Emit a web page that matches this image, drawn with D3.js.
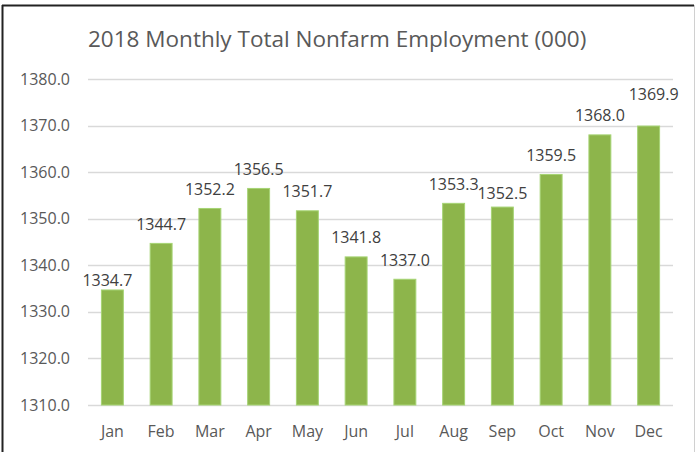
<!DOCTYPE html>
<html>
<head>
<meta charset="utf-8">
<script src="https://cdn.jsdelivr.net/npm/d3@7"></script>
<style>
  body { margin: 0; background: #fff; }
  text { font-family: "Open Sans", "Noto Sans", sans-serif; fill: #595959; }
</style>
</head>
<body>
<svg id="chart" width="696" height="452"></svg>
<script>
const months = ["Jan", "Feb", "Mar", "Apr", "May", "Jun", "Jul", "Aug", "Sep", "Oct", "Nov", "Dec"];
const employment = [1334.7, 1344.7, 1352.2, 1356.5, 1351.7, 1341.8, 1337.0, 1353.3, 1352.5, 1359.5, 1368.0, 1369.9];
const yTicks = [1310, 1320, 1330, 1340, 1350, 1360, 1370, 1380];

// label placement tweaks (excel moves a few of them around)
const labelNudgeX = [-5, 0, 0, 0, 0, 0, 0, 0, 0, 0, 0, 5];
const labelNudgeY = [10, 0, 0, 0, 0, 0, 0, 0, 5.5, 0, 0, -12.5];

const width = 696;
const height = 452;
const margin = {top: 79, right: 23, bottom: 47, left: 88};

const svg = d3.select("#chart");

// frame
svg.append("line").attr("x1", 2.5).attr("x2", 2.5).attr("y1", 5).attr("y2", height)
  .attr("stroke", "#222").attr("stroke-width", 2);
svg.append("line").attr("x1", 2).attr("x2", 694).attr("y1", 5.5).attr("y2", 5.5)
  .attr("stroke", "#222").attr("stroke-width", 2);
svg.append("line").attr("x1", 694.5).attr("x2", 694.5).attr("y1", 5).attr("y2", height)
  .attr("stroke", "#d0d0d0").attr("stroke-width", 1);

const x = d3.scaleBand()
  .domain(months)
  .range([margin.left, width - margin.right])
  .paddingInner(0.55)
  .paddingOuter(0.275);

const y = d3.scaleLinear()
  .domain([1310, 1380])
  .range([height - margin.bottom, margin.top]);

// title
svg.append("text")
  .attr("x", 88)
  .attr("y", 47)
  .attr("font-size", 22.5)
  .text("2018 Monthly Total Nonfarm Employment (000)");

// grid
svg.append("g")
  .selectAll("line")
  .data(yTicks)
  .enter()
  .append("line")
  .attr("x1", margin.left)
  .attr("x2", width - margin.right)
  .attr("y1", d => Math.round(y(d)) + 0.5)
  .attr("y2", d => Math.round(y(d)) + 0.5)
  .attr("stroke", "#d9d9d9")
  .attr("stroke-width", 1.5);

// y axis
const yAxis = svg.append("g")
  .attr("transform", `translate(${margin.left},0)`)
  .call(d3.axisLeft(y).tickValues(yTicks).tickFormat(d3.format(".1f")).tickSize(0).tickPadding(18));
yAxis.select(".domain").remove();
yAxis.selectAll("text").attr("font-size", 16).attr("fill", "#595959")
  .style("font-family", "\"Open Sans\", sans-serif");

// x axis
const xAxis = svg.append("g")
  .attr("transform", `translate(0,${height - margin.bottom})`)
  .call(d3.axisBottom(x).tickSize(0).tickPadding(21));
xAxis.select(".domain").remove();
xAxis.selectAll("text").attr("font-size", 16).attr("fill", "#595959")
  .style("font-family", "\"Open Sans\", sans-serif");

// bars
svg.append("g")
  .selectAll("rect")
  .data(employment)
  .enter()
  .append("rect")
  .attr("x", (d, i) => x(months[i]))
  .attr("y", d => y(d))
  .attr("width", x.bandwidth())
  .attr("height", d => y(1310) - y(d))
  .attr("fill", "#8db54b")
  .attr("stroke", "#a6d474")
  .attr("stroke-width", 1);

// value labels
svg.append("g")
  .selectAll("text")
  .data(employment)
  .enter()
  .append("text")
  .attr("x", (d, i) => x(months[i]) + x.bandwidth() / 2 + labelNudgeX[i])
  .attr("y", (d, i) => y(d) - 13.5 + labelNudgeY[i])
  .attr("text-anchor", "middle")
  .attr("font-size", 16)
  .style("fill", "#404040")
  .text(d => d3.format(".1f")(d));
</script>
</body>
</html>
